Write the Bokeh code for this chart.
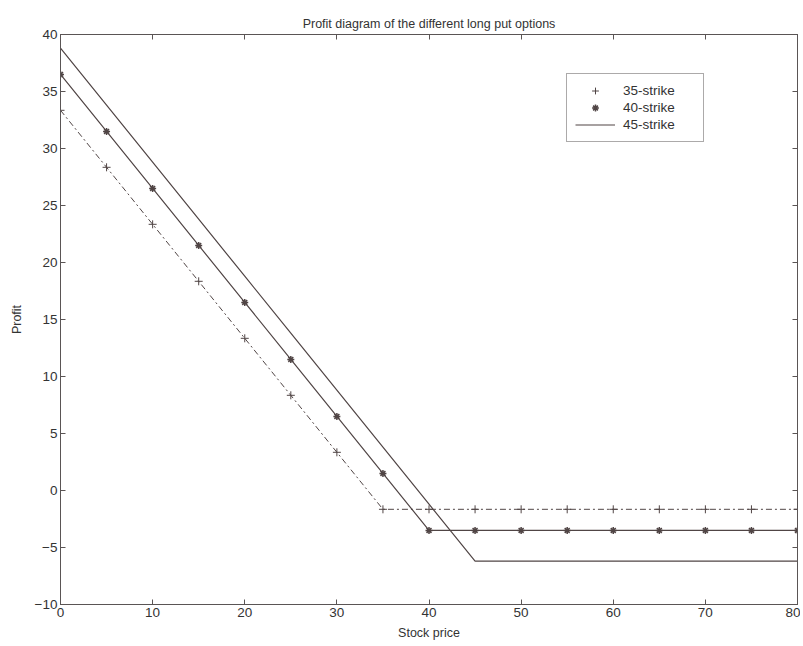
from bokeh.plotting import figure
from bokeh.models import Range1d, LinearAxis, Legend, LegendItem, FixedTicker
from bokeh.embed import file_html
from bokeh.resources import INLINE

stock_price = [0, 5, 10, 15, 20, 25, 30, 35, 40, 45, 50, 55, 60, 65, 70, 75, 80]
profit_35 = [33.35, 28.35, 23.35, 18.35, 13.35, 8.35, 3.35, -1.65, -1.65, -1.65,
             -1.65, -1.65, -1.65, -1.65, -1.65, -1.65, -1.65]
profit_40 = [36.5, 31.5, 26.5, 21.5, 16.5, 11.5, 6.5, 1.5, -3.5, -3.5,
             -3.5, -3.5, -3.5, -3.5, -3.5, -3.5, -3.5]
profit_45 = [38.8, 33.8, 28.8, 23.8, 18.8, 13.8, 8.8, 3.8, -1.2, -6.2,
             -6.2, -6.2, -6.2, -6.2, -6.2, -6.2, -6.2]
x_ticks = [0, 10, 20, 30, 40, 50, 60, 70, 80]
y_ticks = [-10, -5, 0, 5, 10, 15, 20, 25, 30, 35, 40]

FONT = "Liberation Sans"
INK = "#504545"
AX = "#5a5555"

p = figure(width=800, height=644, output_backend="svg", toolbar_location=None,
           x_range=Range1d(0, 80), y_range=Range1d(-10, 40),
           min_border_left=60, min_border_right=3, min_border_top=34, min_border_bottom=40)
p.title.text = "Profit diagram of the different long put options"
p.title.align = "center"
p.title.text_font = FONT
p.title.text_font_size = "12.5px"
p.title.text_font_style = "normal"
p.title.text_color = "#333"
p.title.standoff = 8
p.grid.visible = False
p.outline_line_color = AX

for ax in [p.xaxis[0], p.yaxis[0]]:
    ax.major_tick_in = 5
    ax.major_tick_out = 0
    ax.minor_tick_in = 0
    ax.minor_tick_out = 0
    ax.axis_line_color = AX
    ax.major_tick_line_color = AX
    ax.major_label_text_font = FONT
    ax.major_label_text_font_size = "13.5px"
    ax.major_label_text_color = "#333"
    ax.axis_label_text_font = FONT
    ax.axis_label_text_font_size = "12.5px"
    ax.axis_label_text_font_style = "normal"
    ax.axis_label_text_color = "#333"
p.xaxis[0].ticker = FixedTicker(ticks=x_ticks)
p.yaxis[0].ticker = FixedTicker(ticks=y_ticks)
p.xaxis[0].axis_label = "Stock price"
p.yaxis[0].axis_label = "Profit"
p.xaxis[0].axis_label_standoff = 6
p.yaxis[0].axis_label_standoff = 8
p.xaxis[0].major_label_standoff = 3
p.yaxis[0].major_label_standoff = 3

top = LinearAxis(ticker=FixedTicker(ticks=x_ticks), major_label_text_font_size="0px",
                 major_tick_in=5, major_tick_out=0, minor_tick_in=0, minor_tick_out=0,
                 axis_line_color=AX, major_tick_line_color=AX, major_label_standoff=0)
right = LinearAxis(ticker=FixedTicker(ticks=y_ticks), major_label_text_font_size="0px",
                   major_tick_in=5, major_tick_out=0, minor_tick_in=0, minor_tick_out=0,
                   axis_line_color=AX, major_tick_line_color=AX, major_label_standoff=0)
p.add_layout(top, "above")
p.add_layout(right, "right")

l35 = p.line(stock_price, profit_35, line_color=INK, line_width=1, line_dash="6 3 2 3")
m35 = p.scatter(stock_price, profit_35, marker="cross", size=8, line_color=INK, line_width=1)
l40 = p.line(stock_price, profit_40, line_color=INK, line_width=1.2)
m40 = p.scatter(stock_price, profit_40, marker="asterisk", size=7, line_color=INK, line_width=1.5)
l45 = p.line(stock_price, profit_45, line_color=INK, line_width=1.2)

legend = Legend(items=[LegendItem(label="35-strike", renderers=[m35]),
                       LegendItem(label="40-strike", renderers=[m40]),
                       LegendItem(label="45-strike", renderers=[l45])],
                location=(506, 462))
legend.label_text_font = FONT
legend.label_text_font_size = "13.5px"
legend.label_text_color = "#333"
legend.border_line_color = AX
legend.border_line_width = 1
legend.spacing = 0
legend.padding = 8
legend.margin = 0
legend.glyph_width = 40
legend.glyph_height = 17
legend.label_height = 17
legend.label_width = 72
legend.label_standoff = 8
p.add_layout(legend, "center")

open("out.html", "w").write(file_html(p, INLINE))
